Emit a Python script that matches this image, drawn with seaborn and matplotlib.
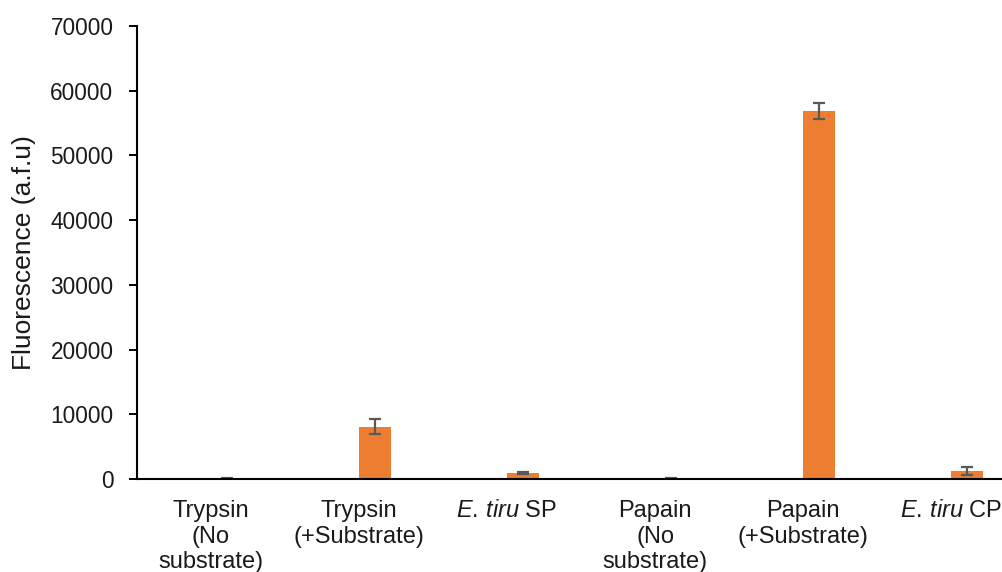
import numpy as np
import pandas as pd
import matplotlib
matplotlib.use("Agg")
import matplotlib.pyplot as plt
import seaborn as sns

categories = ["Trypsin\n(No\nsubstrate)", "Trypsin\n(+Substrate)", r"$\mathit{E.}\,\mathit{tiru}$ SP",
              "Papain\n(No\nsubstrate)", "Papain\n(+Substrate)", r"$\mathit{E.}\,\mathit{tiru}$ CP"]
values = [100, 8100, 900, 50, 56900, 1200]
errors = [60, 1100, 200, 40, 1200, 600]
yticks = [0, 10000, 20000, 30000, 40000, 50000, 60000, 70000]

sns.set_theme(style="white")
plt.rcParams['font.family'] = ['Liberation Sans', 'DejaVu Sans']
plt.rcParams['mathtext.fontset'] = 'custom'
plt.rcParams['mathtext.it'] = 'Liberation Sans:italic'
plt.rcParams['mathtext.rm'] = 'Liberation Sans'

# Excel-style clustered layout: an empty first series shifts the visible bar right
df = pd.DataFrame({
    "cat": categories * 2,
    "series": ["blank"] * 6 + ["fluor"] * 6,
    "val": [0] * 6 + values,
})

fig = plt.figure(figsize=(10.03, 5.72), dpi=100)
ax = fig.add_axes([137 / 1003, 93 / 572, 888 / 1003, 453 / 572])
sns.barplot(data=df, x="cat", y="val", hue="series", order=categories,
            hue_order=["blank", "fluor"], palette={"blank": (1, 1, 1, 0), "fluor": "#ED7D31"},
            width=0.43, legend=False, ax=ax, errorbar=None, linewidth=0, saturation=1)

fl = sorted(list(ax.containers[-1]), key=lambda p: p.get_x())
xs = [p.get_x() + p.get_width() / 2 for p in fl]
ax.errorbar(xs, values, yerr=errors, fmt="none", ecolor="#595959", elinewidth=1.6,
            capsize=4.3, capthick=1.6, zorder=5)

ax.set_xlim(-0.5, 5.5)
ax.set_ylim(0, 70000)
ax.set_yticks(yticks)
ax.set_yticklabels([str(t) for t in yticks])
ax.set_xlabel("")
ax.set_ylabel("Fluorescence (a.f.u)", fontsize=19, color="#1a1a1a", labelpad=10)
ax.tick_params(axis="y", which="both", left=True, length=6, width=1.4, color="black",
               labelsize=16.3, labelcolor="#1a1a1a", pad=11)
ax.tick_params(axis="x", bottom=False, labelsize=17, labelcolor="#1a1a1a", pad=9)
for lab in ax.get_xticklabels():
    lab.set_verticalalignment("top")
    lab.set_linespacing(1.22)
sns.despine(ax=ax, top=True, right=True)
ax.spines["left"].set_color("black")
ax.spines["left"].set_linewidth(1.5)
ax.spines["bottom"].set_color("black")
ax.spines["bottom"].set_linewidth(1.5)
ax.spines["bottom"].set_zorder(6)

fig.savefig("out.png", dpi=100)
